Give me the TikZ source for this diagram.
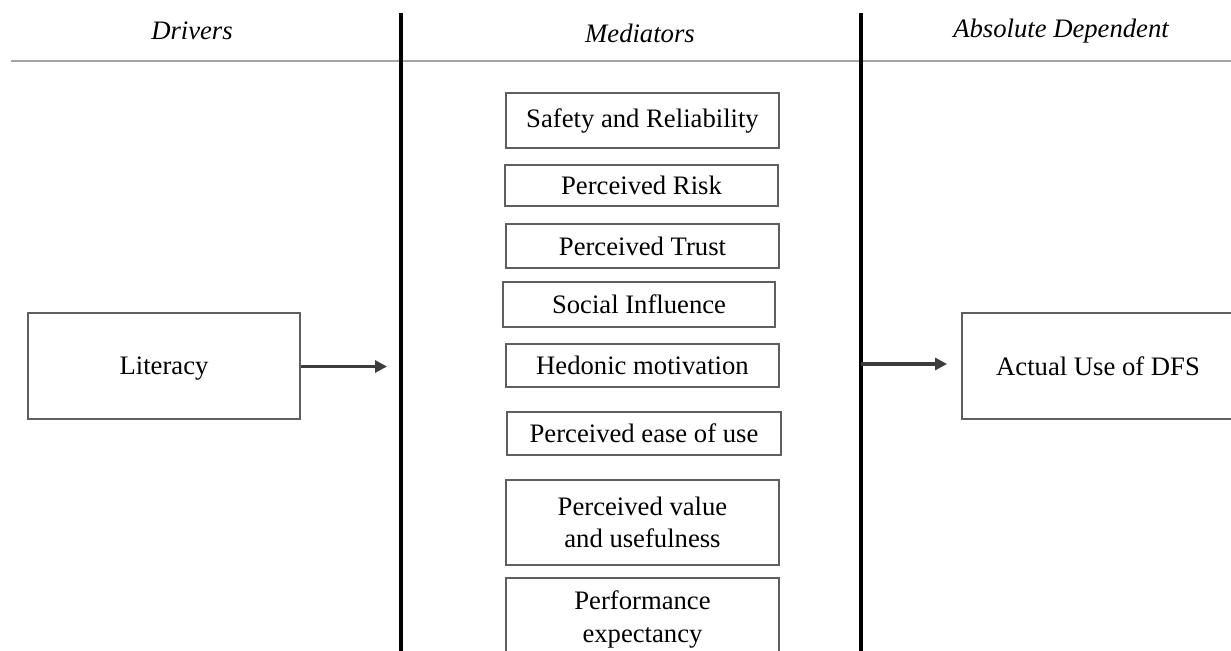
\documentclass[tikz,border=0pt]{standalone}
\usepackage{fontspec}
\setmainfont{Liberation Serif}
\usetikzlibrary{arrows.meta}
\definecolor{boxgray}{RGB}{95,95,95}
\definecolor{arrgray}{RGB}{60,60,60}
\definecolor{rulegray}{RGB}{165,165,165}
\tikzset{
  txt/.style={font=\fontsize{20}{24.5}\selectfont},
  hdr/.style={font=\fontsize{20}{24}\selectfont\itshape},
  mbox/.style={draw=boxgray, line width=1.1pt, inner sep=0pt, align=center, txt},
  bigarrow/.style={draw=arrgray, line width=2.4pt, -{Triangle[length=9pt,width=9pt]}},
  divider/.style={draw=black, line width=2.6pt},
}
\begin{document}
\begin{tikzpicture}[x=0.75pt,y=-0.75pt]
\useasboundingbox (0,0) rectangle (1231,650);
\clip (0,0) rectangle (1231,650);
% headers
\node[hdr] (hdrv) at (192,31) {Drivers};
\node[hdr] (hmed) at (640,33) {Mediators};
\node[hdr] (habs) at (1061,31) {Absolute Dependent};
% rules
\coordinate (hl) at (11,61);
\coordinate (hr) at (1231,61);
\draw[draw=rulegray, line width=1.3pt] (hl) -- (hr);
\coordinate (v1t) at (401,13);
\coordinate (v1b) at (401,652);
\coordinate (v2t) at (861,13);
\coordinate (v2b) at (861,652);
\draw[divider] (v1t) -- (v1b);
\draw[divider] (v2t) -- (v2b);
% mediators
\node[mbox, minimum width=204.75pt, minimum height=41.25pt] (safe) at (642.5,120.5) {Safety and Reliability};
\node[mbox, minimum width=204.75pt, minimum height=30.75pt] (risk) at (641.5,185.5) {Perceived Risk};
\node[mbox, minimum width=204.75pt, minimum height=33pt] (trust) at (642.5,246) {Perceived Trust};
\node[mbox, minimum width=204pt, minimum height=33.75pt] (social) at (639,304.5) {Social Influence};
\node[mbox, minimum width=204.75pt, minimum height=32.25pt] (hedonic) at (642.5,365.5) {Hedonic motivation};
\node[mbox, minimum width=205.5pt, minimum height=32.25pt] (ease) at (644,433.5) {Perceived ease of use};
\node[mbox, minimum width=204.75pt, minimum height=63.75pt] (value) at (642.5,522.5) {Perceived value\\and usefulness};
\node[mbox, minimum width=204.75pt, minimum height=62.25pt] (perf) at (642.5,619.5) {Performance\\expectancy};
% driver and dependent
\node[mbox, text depth=0pt, minimum width=204pt, minimum height=79.5pt] (lit) at (164,366) {Literacy};
\node[mbox, text depth=0pt, minimum width=204pt, minimum height=79.5pt] (use) at (1098,366) {Actual Use of DFS};
% arrows
\coordinate (a1e) at (387,366.5);
\draw[bigarrow] (lit.east |- a1e) -- (a1e);
\coordinate (a2s) at (861,364);
\coordinate (a2e) at (947,364);
\draw[bigarrow] (a2s) -- (a2e);
\end{tikzpicture}
\end{document}
